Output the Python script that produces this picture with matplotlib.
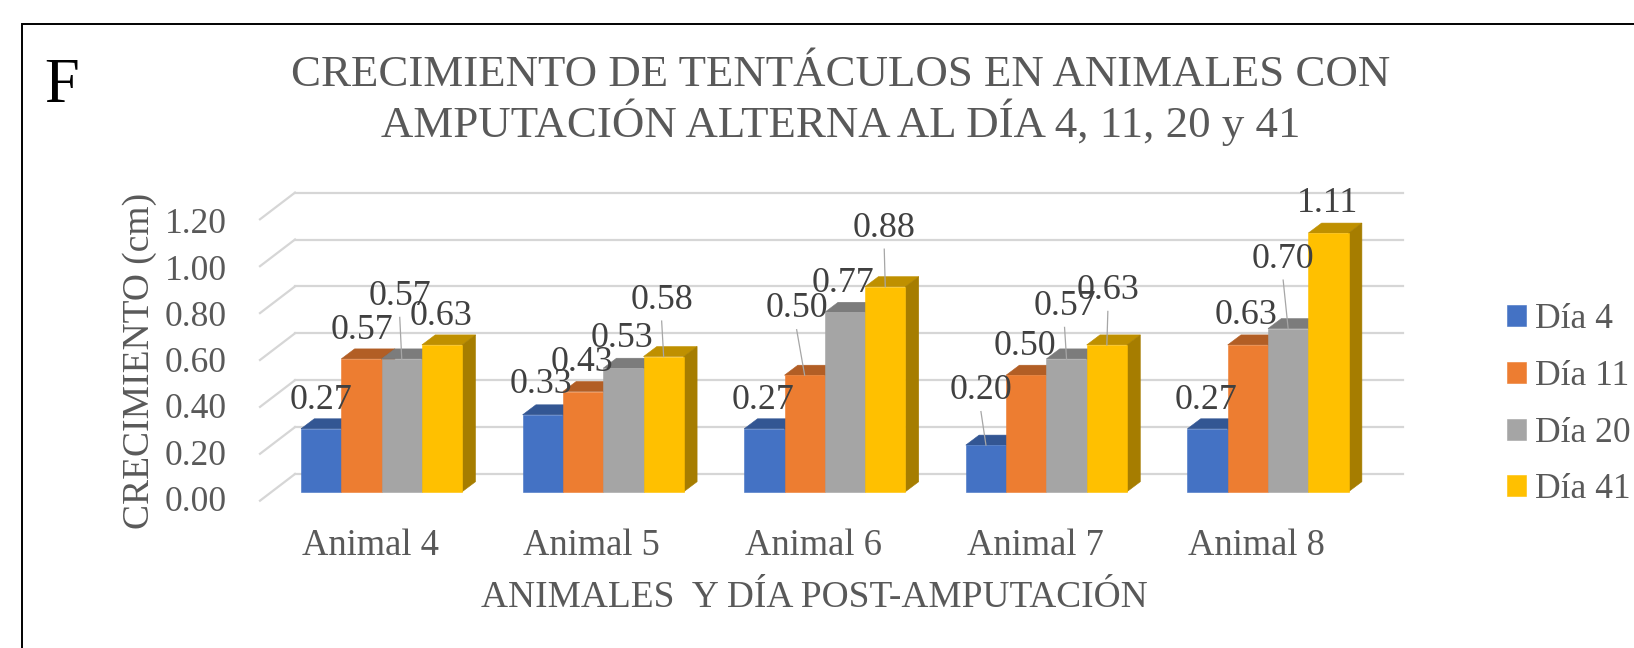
import numpy as np
import matplotlib.pyplot as plt
from matplotlib.patches import Polygon
from matplotlib.colors import to_rgb

plt.rcParams['font.family'] = ['Liberation Serif', 'DejaVu Serif']

# data
animals = ["Animal 4", "Animal 5", "Animal 6", "Animal 7", "Animal 8"]
series = ["Día 4", "Día 11", "Día 20", "Día 41"]
dia4 = [0.27, 0.33, 0.27, 0.20, 0.27]
dia11 = [0.57, 0.43, 0.50, 0.50, 0.63]
dia20 = [0.57, 0.53, 0.77, 0.57, 0.70]
dia41 = [0.63, 0.58, 0.88, 0.63, 1.11]
yticks = [0.0, 0.2, 0.4, 0.6, 0.8, 1.0, 1.2]

colors = ["#4472C4", "#ED7D31", "#A5A5A5", "#FFC000"]
grey_txt = "#595959"

# hand-moved data labels in the original: offset (px) from the top-front centre of each bar
label_dx = [[0, -2, -1, -5, -2], [0, -1, -8, -1, -2], [-2, -1, -2, -2, -5], [-1, -2, -1, 1, -1]]
label_dy = [[-32, -34, -32, -58, -32], [-32, -33, -70, -32, -33], [-66, -33, -32, -56, -73], [-32, -60, -62, -58, -33]]

# layout in pixels of the 1634x648 canvas
W, H = 1634, 648
X0, GW = 381.6, 221.6      # centre of first group, group pitch
Y0, VS = 491.7, 233.0      # bar baseline, px per cm
BW = 40.3                  # bar width
DX, DY = 13.3, 10.0        # bar depth


def xd(px):
    return (px - X0) / GW


def yd(py):
    return (Y0 - py) / VS


def shade(c, f):
    r, g, b = to_rgb(c)
    return (r * f, g * f, b * f)


fig = plt.figure(figsize=(W / 100, H / 100), dpi=100)
ax = fig.add_axes([0, 0, 1, 1])
ax.set_xlim(xd(0), xd(W))
ax.set_ylim(yd(H), yd(0))
ax.axis('off')

# outer frame (left + top edges visible)
ax.plot([xd(22.3), xd(22.3), xd(W)], [yd(H), yd(24), yd(24)], color='black', lw=1.4,
        solid_joinstyle='miter', zorder=1)

# back wall and side wall gridlines
for g in yticks:
    yb = 474 - 234.5 * g
    ax.plot([xd(295), xd(1403)], [yd(yb), yd(yb)], color='#D6D6D6', lw=1.6, zorder=1)
    ax.plot([xd(260), xd(295)], [yd(yb + 26.7), yd(yb)], color='#D6D6D6', lw=1.6, zorder=1)
    ax.text(xd(227), yd(511 - 231.5 * g), f"{g:.2f}", ha='right', va='baseline',
            fontsize=25.5, color=grey_txt)

# 3d-ish columns
data = [dia4, dia11, dia20, dia41]
w = BW / GW
ddx, ddy = DX / GW, DY / VS
handles = []
for k, vals in enumerate(data):
    xs = np.arange(len(animals)) + (k - 1.5) * w
    bc = ax.bar(xs, vals, width=w, color=colors[k], edgecolor=colors[k], linewidth=0.4,
                zorder=3 + 2 * k)
    handles.append(bc)
    for i, (x, v) in enumerate(zip(xs, vals)):
        l, r = x - w / 2, x + w / 2
        ax.add_patch(Polygon([(l, v), (r, v), (r + ddx, v + ddy), (l + ddx, v + ddy)],
                             closed=True, fc=shade(colors[k], 0.75), ec=shade(colors[k], 0.75),
                             lw=0.4, zorder=2 + 2 * k))
        ax.add_patch(Polygon([(r, 0), (r + ddx, ddy), (r + ddx, v + ddy), (r, v)],
                             closed=True, fc=shade(colors[k], 0.65), ec=shade(colors[k], 0.65),
                             lw=0.4, zorder=2 + 2 * k))
        dx, dy = label_dx[k][i], label_dy[k][i]
        lx = x + dx / GW
        ax.text(lx, v - (dy + 12) / VS, f"{v:.2f}", ha='center', va='baseline',
                fontsize=25.8, color='#404040', zorder=30)
        if dy < -45:
            ax.plot([lx, x], [v - (dy + 24.5) / VS, v], color='#A6A6A6', lw=0.9, zorder=29)

# category labels
for i, name in enumerate(animals):
    ax.text(i - 11.5 / GW, yd(555), name, ha='center', va='baseline', fontsize=26.3, color=grey_txt)

# titles
ax.text(xd(841), yd(86), "CRECIMIENTO DE TENTÁCULOS EN ANIMALES CON", ha='center', va='baseline',
        fontsize=32.3, color=grey_txt)
ax.text(xd(841), yd(137), "AMPUTACIÓN ALTERNA AL DÍA 4, 11, 20 y 41", ha='center', va='baseline',
        fontsize=32.3, color=grey_txt)
ax.text(xd(814), yd(607), "ANIMALES  Y DÍA POST-AMPUTACIÓN", ha='center', va='baseline',
        fontsize=26.9, color=grey_txt)
ax.text(xd(149), yd(361), "CRECIMIENTO (cm)", rotation=90, rotation_mode='anchor',
        ha='center', va='baseline', fontsize=27, color=grey_txt)
ax.text(xd(44), yd(101.7), "F", ha='left', va='baseline', fontsize=45, color='black')

ax.legend(handles, series, loc='upper left', bbox_to_anchor=(1507 / W, 1 - 303 / H),
          bbox_transform=fig.transFigure, frameon=False, borderpad=0, borderaxespad=0,
          handlelength=0.535, handleheight=0.535, handletextpad=0.25, labelspacing=0.67,
          prop={'size': 25.6}, labelcolor=grey_txt)

fig.savefig("out.png", dpi=100)
